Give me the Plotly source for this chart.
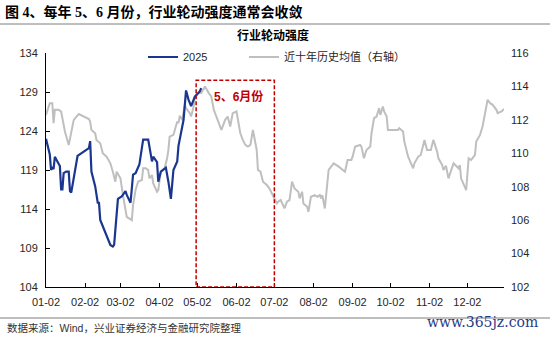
import pandas as pd
import plotly.graph_objects as go

# ---- data -------------------------------------------------------------
# days counted from 2 January; values of the industry-rotation strength index
day0 = pd.Timestamp("2025-01-02")

blue_day = [0, 3, 4, 5, 6, 7, 9, 11, 12, 13, 14, 16, 18, 19, 20, 23, 25, 34, 35, 36,
            39, 41, 42, 43, 45, 48, 49, 51, 53, 54, 57, 60, 63, 64, 67, 69, 71, 74, 77, 81,
            84, 85, 88, 89, 91, 93, 95, 97, 99, 101, 104, 105, 109, 111, 113, 115, 118, 122, 123]
blue_val = [123.0, 121.0, 119.0, 119.4, 119.1, 120.7, 120.1, 119.5, 116.5, 116.5,
            118.6, 118.8, 118.8, 116.3, 116.1, 119.0, 120.8, 121.8, 122.7, 118.8,
            116.9, 114.8, 114.8, 112.6, 111.8, 110.7, 110.1, 109.4, 109.2, 109.4,
            115.3, 115.6, 116.3, 115.8, 114.8, 118.4, 118.6, 119.7, 122.9, 122.9,
            120.1, 120.7, 120.0, 117.5, 118.8, 119.1, 119.3, 117.5, 115.3, 119.0,
            120.1, 122.1, 125.4, 129.2, 128.0, 127.2, 128.4, 129.1, 129.5]

gray_day = [0, 2, 3, 5, 6, 7, 10, 12, 15, 18, 19, 22, 26, 29, 34, 35, 36, 39, 40, 43,
            45, 48, 51, 53, 55, 56, 59, 61, 64, 68, 69, 71, 73, 76, 77, 79, 81, 82, 84, 85,
            88, 89, 90, 91, 94, 96, 97, 98, 101, 102, 104, 105, 106, 108, 110, 111, 113, 114, 115, 117,
            118, 121, 123, 126, 129, 131, 133, 135, 137, 139, 142, 144, 146, 148, 151, 154, 156, 158, 160, 162,
            164, 167, 168, 170, 172, 174, 175, 177, 180, 183, 184, 186, 189, 191, 193, 195, 197, 200, 201, 203,
            204, 207, 208, 210, 213, 215, 217, 218, 219, 221, 224, 228, 232, 234, 237, 239, 242, 243, 245, 249,
            250, 252, 254, 257, 258, 260, 262, 264, 265, 267, 268, 270, 271, 279, 280, 283, 284, 287, 288, 291,
            292, 295, 297, 300, 302, 305, 307, 310, 311, 314, 315, 317, 319, 321, 323, 327, 328, 329, 331, 333,
            335, 337, 340, 341, 344, 346, 348, 350, 352, 354, 357, 358, 361, 363]
gray_val = [112.3, 112.8, 113.0, 113.0, 111.8, 112.6, 112.6, 112.5, 111.3, 110.5,
            110.9, 112.0, 112.35, 112.25, 112.05, 111.9, 111.4, 111.2, 110.8, 110.6,
            110.0, 109.8, 109.4, 108.9, 108.3, 108.9, 108.5, 107.5, 106.2, 106.0,
            106.9, 107.8, 108.3, 108.4, 109.1, 109.1, 109.0, 108.5, 108.7, 108.2,
            107.7, 107.8, 108.4, 108.9, 109.1, 109.7, 110.2, 111.0, 111.1, 111.4,
            111.9, 111.8, 112.25, 112.0, 112.9, 112.7, 112.5, 112.4, 112.2, 112.8,
            113.4, 113.6, 113.6, 114.0, 113.6, 113.4, 112.6, 112.2, 111.8, 111.4,
            112.0, 112.2, 111.6, 112.4, 112.5, 111.2, 110.8, 110.5, 110.4, 110.5,
            111.4, 110.2, 109.0, 108.9, 108.3, 108.2, 108.1, 107.9, 107.4, 107.0,
            107.1, 107.2, 106.7, 107.1, 107.2, 108.3, 107.9, 107.7, 107.3, 107.7,
            107.0, 106.8, 106.5, 107.4, 107.5, 107.4, 107.5, 107.3, 107.5, 106.7,
            109.0, 109.4, 109.2, 109.1, 108.9, 109.6, 109.6, 109.8, 110.4, 110.5,
            110.4, 109.7, 110.2, 110.4, 111.2, 112.1, 112.2, 112.7, 112.3, 112.8,
            112.5, 112.2, 111.4, 111.4, 111.5, 111.3, 110.7, 109.8, 109.6, 109.1,
            109.4, 109.8, 109.9, 110.8, 110.2, 110.2, 110.8, 110.1, 109.7, 109.3,
            109.0, 109.25, 108.5, 108.9, 109.4, 109.1, 109.3, 108.5, 108.1, 107.8,
            109.7, 109.6, 109.9, 110.7, 111.1, 111.6, 112.4, 113.2, 113.0, 112.9,
            112.6, 112.4, 112.5, 112.65]

tick_months = list(range(1, 13))
tick_text = ["01-02", "02-02", "03-02", "04-02", "05-02", "06-02",
             "07-02", "08-02", "09-02", "10-02", "11-02", "12-02"]
left_ticks = [104, 109, 114, 119, 124, 129, 134]
right_ticks = [102, 104, 106, 108, 110, 112, 114, 116]

# May-June window that is boxed in red
window_start, window_end, window_top = "2025-05-01", "2025-07-02", 130.5

# ---- figure -----------------------------------------------------------
BLUE = "#1A368E"
GRAY = "#BFBFBF"
RED = "#C00000"
TXT = "#262626"
FONT = "Liberation Sans, Noto Sans CJK SC, sans-serif"

blue_x = day0 + pd.to_timedelta(blue_day, unit="D")
gray_x = day0 + pd.to_timedelta(gray_day, unit="D")
tick_vals = [pd.Timestamp(2025, m, 2) for m in tick_months]

fig = go.Figure()
fig.add_trace(go.Scatter(
    x=gray_x, y=gray_val, mode="lines", name="近十年历史均值（右轴）",
    line=dict(color=GRAY, width=2), yaxis="y", legend="legend2"))
fig.add_trace(go.Scatter(
    x=blue_x, y=blue_val, mode="lines", name="2025",
    line=dict(color=BLUE, width=2.2), yaxis="y2", legend="legend"))

# page coordinates helpers (plot area is 46..504 x 53..287)
L, R, T, B = 46, 46, 53, 52
PW, PH = 550 - L - R, 339 - T - B


def px(xp):
    return (xp - L) / PW


def py(yp):
    return (339 - B - yp) / PH


fig.update_layout(
    width=550, height=339,
    margin=dict(l=L, r=R, t=T, b=B),
    paper_bgcolor="white", plot_bgcolor="white",
    font=dict(family=FONT, size=11, color=TXT),
    title=dict(text="图 4、每年 5、6 月份，行业轮动强度通常会收敛",
               x=5 / 550, y=1 - 12 / 339, xref="container", yref="container",
               xanchor="left", yanchor="middle",
               font=dict(family="Liberation Serif, Noto Sans CJK SC, serif",
                         size=14, color="#000000", weight="bold")),
    xaxis=dict(type="date", range=["2025-01-02", "2025-12-31"],
               tickvals=tick_vals, ticktext=tick_text,
               showgrid=False, zeroline=False,
               showline=True, linecolor="#000000", linewidth=1,
               ticks="inside", ticklen=4, tickcolor="#000000",
               ticklabelstandoff=5, tickfont=dict(size=11, color=TXT)),
    yaxis=dict(range=[102, 116], tickvals=right_ticks, side="right",
               showgrid=False, zeroline=False, showline=False, ticks="",
               ticklabelstandoff=6, tickfont=dict(size=11, color=TXT)),
    yaxis2=dict(range=[104, 134], tickvals=left_ticks, side="left",
                overlaying="y", showgrid=False, zeroline=False,
                showline=True, linecolor="#000000", linewidth=1,
                ticks="inside", ticklen=4, tickcolor="#000000",
                ticklabelstandoff=5, tickfont=dict(size=11, color=TXT)),
    legend=dict(orientation="h", x=px(143), y=py(57), xanchor="left",
                yanchor="middle", bgcolor="rgba(0,0,0,0)",
                font=dict(size=11, color=TXT)),
    legend2=dict(orientation="h", x=px(244), y=py(57), xanchor="left",
                 yanchor="middle", bgcolor="rgba(0,0,0,0)",
                 font=dict(size=11, color=TXT)),
    showlegend=True,
)

# red dashed frame around May–June
fig.add_shape(type="rect", xref="x", yref="y2",
              x0=window_start, x1=window_end, y0=104, y1=window_top,
              line=dict(color=RED, width=1.5, dash="4px,2px"),
              fillcolor="rgba(0,0,0,0)")

# separator rules under the heading and above the source line
for yp in (24, 318):
    fig.add_shape(type="line", xref="paper", yref="paper",
                  x0=px(0), x1=px(550), y0=py(yp), y1=py(yp),
                  line=dict(color="#7F7F7F", width=1))

fig.add_annotation(text="<b>行业轮动强度</b>", xref="paper", yref="paper",
                   x=px(273), y=py(35), showarrow=False,
                   xanchor="center", yanchor="middle",
                   font=dict(size=12, color="#000000"))
fig.add_annotation(text="<b>5、6月份</b>", xref="paper", yref="paper",
                   x=px(212), y=py(96), showarrow=False,
                   xanchor="left", yanchor="middle",
                   font=dict(size=12, color=RED))
fig.add_annotation(text="数据来源：Wind，兴业证券经济与金融研究院整理",
                   xref="paper", yref="paper", x=px(5), y=py(328),
                   showarrow=False, xanchor="left", yanchor="middle",
                   font=dict(size=10.5, color="#333333"))
fig.add_annotation(text="www.365jz.com", xref="paper", yref="paper",
                   x=px(540), y=py(322), showarrow=False,
                   xanchor="right", yanchor="middle",
                   font=dict(family="DejaVu Serif, serif", size=14, color="#1F3C88"))

fig.write_html("out.html")
